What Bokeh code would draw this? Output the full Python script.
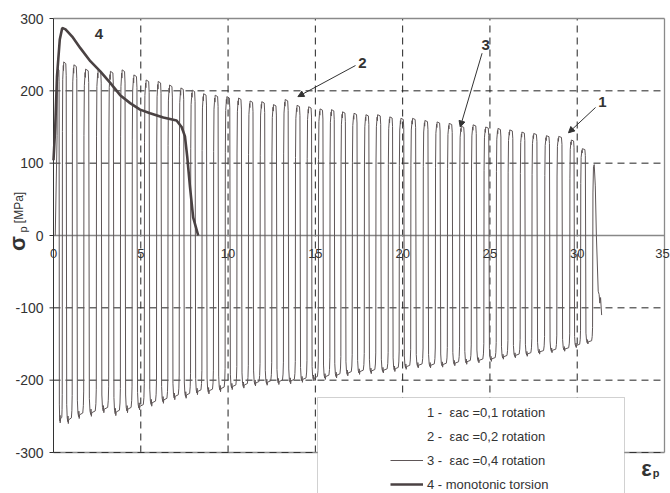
import numpy as np
from bokeh.plotting import figure
from bokeh.models import (Range1d, ColumnDataSource, Legend, LegendItem,
                          BoxAnnotation, Label, Arrow, NormalHead)
from bokeh.core.properties import value
from bokeh.embed import file_html
from bokeh.resources import INLINE

# ---- data ----
# strain at which each loading cycle switches to positive stress
cycle_start = [0.20, 0.50, 1.07, 1.73, 2.45, 3.16, 3.83, 4.50, 5.20, 5.90,
               6.55, 7.20, 7.85, 8.50, 9.16, 9.83, 10.50, 11.16, 11.83, 12.50,
               13.17, 13.85, 14.52, 15.17, 15.83, 16.46, 17.11, 17.80, 18.46, 19.17,
               19.80, 20.46, 21.17, 21.87, 22.56, 23.26, 23.93, 24.65, 25.36, 26.03,
               26.73, 27.40, 28.13, 28.83, 29.57, 30.19, 30.88]
cycle_peak_pos = [231, 240, 236, 230, 229, 227, 229, 222, 215, 213,
                  208, 204, 201, 196, 194, 192, 190, 186, 185, 181,
                  188, 180, 178, 175, 174, 171, 169, 167, 167, 164,
                  162, 162, 159, 157, 155, 151, 153, 150, 148, 146,
                  143, 141, 138, 137, 132, 120, 98]
cycle_peak_neg = [-259, -260, -253, -250, -245, -249, -245, -241, -236, -232,
                  -227, -225, -220, -219, -216, -213, -211, -208, -207, -206,
                  -205, -203, -201, -199, -197, -194, -192, -191, -190, -188,
                  -185, -183, -183, -182, -180, -178, -176, -174, -171, -169,
                  -167, -164, -162, -160, -155, -150, -110]
cycle_end_strain = 31.40

mono_strain = [0.0, 0.1, 0.2, 0.36, 0.5, 0.69, 1.07, 1.54, 2.11, 2.68, 3.25, 3.82,
               4.39, 4.96, 5.53, 6.29, 7.05, 7.34, 7.53, 7.66, 7.82, 8.0, 8.29]
mono_stress = [104, 150, 220, 271, 287, 285, 275, 259, 241, 227, 211, 194,
               183, 174, 169, 163, 159, 150, 137, 109, 67, 25, 0]

x_ticks = [0, 5, 10, 15, 20, 25, 30, 35]
y_ticks = [-300, -200, -100, 0, 100, 200, 300]

legend_labels = ["1 -  \u03b5ac =0,1 rotation", "2 -  \u03b5ac =0,2 rotation",
                 "3 -  \u03b5ac =0,4 rotation", "4 - monotonic torsion"]

FONT = "Liberation Sans"
TXT = "#333333"


def build_cycles(starts, pos, neg, end):
    xs, ys = [starts[0] - 0.1], [0.0]
    n = len(starts)
    for i in range(n):
        s, P, N = starts[i], pos[i], neg[i]
        if i < n - 1:
            d = starts[i + 1] - s
            fr = [(0.02, 0.6 * P), (0.05, 0.9 * P), (0.09, 0.95 * P), (0.11, 0.98 * P),
                  (0.13, 0.95 * P), (0.15, P), (0.36, 0.99 * P), (0.40, 0.92 * P),
                  (0.45, 0.9 * N), (0.50, 0.97 * N), (0.56, 0.99 * N), (0.58, 0.96 * N),
                  (0.61, N), (0.64, 0.98 * N), (0.92, 0.97 * N), (0.97, 0.93 * N),
                  (1.0, 0.85 * N)]
        else:
            d = end - s
            fr = [(0.04, 0.6 * P), (0.1, 0.97 * P), (0.18, P), (0.3, 0.7 * P),
                  (0.42, 0.0), (0.62, 0.7 * N), (0.72, 0.74 * N), (0.8, 0.85 * N),
                  (0.88, 0.78 * N), (1.0, N)]
        for f, v in fr:
            xs.append(s + f * d)
            ys.append(v)
    return xs, ys


cx, cy = build_cycles(cycle_start, cycle_peak_pos, cycle_peak_neg, cycle_end_strain)

# ---- layout: the frame fills the whole canvas; axis drawn inside it ----
W, H = 670, 493
PX0, PX35 = 53.0, 664.0          # pixel columns of strain 0 and 35
PY300, PYM300 = 18.0, 452.0      # pixel rows of stress 300 and -300
kx = (PX35 - PX0) / 35.0
ky = (PYM300 - PY300) / 600.0
x_range = Range1d(-PX0 / kx, 35 + (W - PX35) / kx)
y_range = Range1d(-300 - (H - PYM300) / ky, 300 + PY300 / ky)

p = figure(width=W, height=H, x_range=x_range, y_range=y_range,
           x_axis_type=None, y_axis_type=None, output_backend="svg",
           toolbar_location=None, min_border=0)
p.outline_line_color = None
p.background_fill_color = "white"
p.border_fill_color = "white"
p.grid.visible = False


def px_x(px):
    return (px - PX0) / kx


def px_y(py):
    return 300 - (py - PY300) / ky


# grid lines
grid_x = [t for t in x_ticks if 0 < t < 35]
grid_y = [t for t in y_ticks if t not in (0, 300, -300)]
p.segment(x0=grid_x, y0=[-300] * len(grid_x), x1=grid_x, y1=[300] * len(grid_x),
          line_color="#222222", line_width=1, line_dash="7 5")
p.segment(x0=[0] * len(grid_y), y0=grid_y, x1=[35] * len(grid_y), y1=grid_y,
          line_color="#222222", line_width=1, line_dash="7 5")
# frame borders
p.segment(x0=[0, 35, 0], y0=[300, -300, -300], x1=[35, 35, 35], y1=[300, 300, -300],
          line_color="#8a8a8a", line_width=1.3)
p.segment(x0=[0], y0=[-300], x1=[35], y1=[-300], line_color="#333333",
          line_width=1, line_dash="7 5")
p.segment(x0=[0], y0=[0], x1=[35], y1=[0], line_color="#888888", line_width=1.3)

# y axis: line, ticks, labels
p.segment(x0=[0], y0=[min(y_ticks)], x1=[0], y1=[max(y_ticks)],
          line_color="#333333", line_width=1)
p.ray(x=[0] * len(y_ticks), y=y_ticks, length=4, length_units="screen", angle=np.pi,
      line_color="#333333", line_width=1)
p.text(x=[0] * len(y_ticks), y=y_ticks, text=[str(t) for t in y_ticks],
       text_font=value(FONT), text_font_size="14px", text_color=TXT,
       text_align="right", text_baseline="middle", x_offset=-10)

# curves
src_c = ColumnDataSource(data=dict(x=cx, y=cy))
empty = ColumnDataSource(data=dict(x=[], y=[]))
r1 = p.line("x", "y", source=empty, line_color="#aaaaaa", line_width=1, line_dash="4 3")
r2 = p.line("x", "y", source=empty, line_color="#a0a0a0", line_width=1)
r3 = p.line("x", "y", source=src_c, line_color="#5e5657", line_width=1)
r4 = p.line(mono_strain, mono_stress, line_color="#4a4243", line_width=2.6)

# x tick labels on the zero line
xoff = [0] * (len(x_ticks) - 1) + [-2]
p.text(x=x_ticks, y=[0] * len(x_ticks), text=[str(t) for t in x_ticks],
       text_font=value(FONT), text_font_size="13px", text_color=TXT,
       text_align="center", text_baseline="top", y_offset=13, x_offset=xoff)

# curve annotations
for (tx, ty, t) in [(2.6, 278, "4"), (17.7, 238, "2"), (24.75, 264, "3"), (31.45, 185, "1")]:
    p.add_layout(Label(x=tx, y=ty, text=t, text_font=FONT, text_font_size="15px",
                       text_font_style="bold", text_color=TXT,
                       text_align="center", text_baseline="middle"))
for (x0, y0, x1, y1) in [(17.3, 235, 14.0, 192), (24.55, 252, 23.3, 150), (31.05, 177, 29.5, 142)]:
    p.add_layout(Arrow(end=NormalHead(size=6, fill_color="#333333", line_color="#333333"),
                       x_start=x0, y_start=y0, x_end=x1, y_end=y1,
                       line_color="#333333", line_width=1))

# axis titles
p.text(x=[px_x(17)], y=[px_y(243)], text=["\u03c3"], angle=np.pi / 2,
       text_font=value(FONT), text_font_size="22px", text_font_style="bold",
       text_color=TXT, text_align="center", text_baseline="middle")
p.text(x=[px_x(22)], y=[px_y(229)], text=["p"], angle=np.pi / 2,
       text_font=value(FONT), text_font_size="11px",
       text_color=TXT, text_align="center", text_baseline="middle")
p.text(x=[px_x(18)], y=[px_y(207)], text=["[MPa]"], angle=np.pi / 2,
       text_font=value(FONT), text_font_size="12px",
       text_color=TXT, text_align="center", text_baseline="middle")
p.text(x=[px_x(646)], y=[px_y(468)], text=["\u03b5"],
       text_font=value(FONT), text_font_size="22px", text_font_style="bold",
       text_color=TXT, text_align="center", text_baseline="middle")
p.text(x=[px_x(655.5)], y=[px_y(472)], text=["p"],
       text_font=value(FONT), text_font_size="11px", text_font_style="bold",
       text_color=TXT, text_align="center", text_baseline="middle")

# legend box
p.add_layout(BoxAnnotation(left=px_x(317), right=px_x(624), top=px_y(397), bottom=-420,
                           fill_color="white", fill_alpha=1.0,
                           line_color="#666666", line_width=1))
legend = Legend(items=[LegendItem(label=legend_labels[0], renderers=[r1]),
                       LegendItem(label=legend_labels[1], renderers=[r2]),
                       LegendItem(label=legend_labels[2], renderers=[r3]),
                       LegendItem(label=legend_labels[3], renderers=[r4])],
                location=(386, -5), padding=4, spacing=4, margin=0,
                glyph_width=33, glyph_height=20, label_height=20, label_standoff=4,
                border_line_alpha=0, background_fill_alpha=0,
                label_text_font=FONT, label_text_font_size="13px", label_text_color=TXT)
p.add_layout(legend, "center")

open("out.html", "w").write(file_html(p, INLINE))
